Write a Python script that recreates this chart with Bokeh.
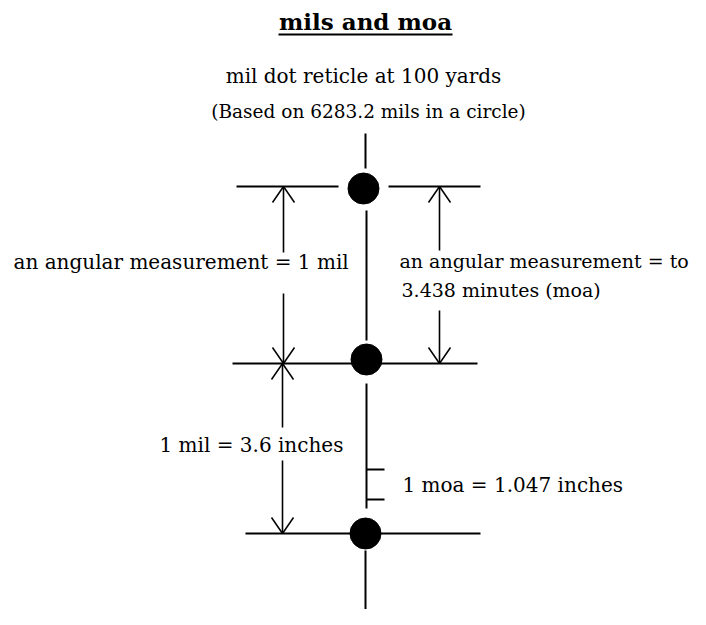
from bokeh.plotting import figure
from bokeh.models import Range1d
from bokeh.core.properties import value
from bokeh.embed import file_html
from bokeh.resources import INLINE

# ---- diagram data (reference pixel coordinates, y grows downward) ----
dot_x = [363, 366, 365]
dot_y = [188, 359, 533]

# reticle lines (x0, y0, x1, y1)
line_x0 = [236, 388, 232, 245, 365, 366, 366, 365, 366, 366]
line_y0 = [186, 186, 363, 533, 133, 210, 383, 550, 469, 499]
line_x1 = [338, 480, 477, 480, 365, 366, 366, 365, 384, 384]
line_y1 = [186, 186, 363, 533, 168, 340, 508, 625, 469, 499]

# dimension arrows: shaft segments and arrow tips (x, y, direction: -1 up, +1 down)
shaft_x0 = [283, 283, 282, 282, 439, 439]
shaft_y0 = [186, 293, 363, 460, 186, 310]
shaft_x1 = [283, 283, 282, 282, 439, 439]
shaft_y1 = [252, 363, 427, 533, 250, 363]
tip_x = [283, 283, 282, 282, 439, 439]
tip_y = [186, 363, 363, 533, 186, 363]
tip_dir = [-1, 1, -1, 1, -1, 1]

title = "mils and moa"
subtitle1 = "mil dot reticle at 100 yards"
subtitle2 = "(Based on 6283.2 mils in a circle)"
labels_l = ["an angular measurement = 1 mil", "1 mil = 3.6 inches", "1 moa = 1.047 inches"]
label_l_x = [13, 159, 402]
label_l_y = [268, 451, 491]
labels_r = ["an angular measurement = to", "3.438 minutes (moa)"]
label_r_x = [399, 401]
label_r_y = [267, 296]

W, H = 690, 609
p = figure(width=W, height=H, output_backend="svg", toolbar_location=None,
           x_range=Range1d(0, W), y_range=Range1d(H, 0),
           min_border=0, background_fill_color="white")
p.axis.visible = False
p.grid.visible = False
p.outline_line_color = None

serif = value("DejaVu Serif")
dy = 7  # baseline correction (screen pixels, upward)

# lines
p.segment(line_x0, line_y0, line_x1, line_y1, line_color="black", line_width=2)
p.segment(shaft_x0, shaft_y0, shaft_x1, shaft_y1, line_color="black", line_width=1.6)

# arrow heads (open V)
ax0, ay0, ax1, ay1 = [], [], [], []
for tx, ty, d in zip(tip_x, tip_y, tip_dir):
    for s in (-1, 1):
        ax0.append(tx)
        ay0.append(ty)
        ax1.append(tx + s * 11)
        ay1.append(ty - d * 16)
p.segment(ax0, ay0, ax1, ay1, line_color="black", line_width=1.5)

# dots
p.scatter(dot_x, dot_y, marker="circle", size=31, fill_color="black", line_color="black")

# title + underline
p.text([365], [28], text=[title], text_font=serif, text_font_style="bold",
       text_font_size="23px", text_align="center", text_baseline="alphabetic",
       text_color="black", y_offset=-dy)
p.segment([278], [34], [452], [34], line_color="black", line_width=2)

p.text([363], [82], text=[subtitle1], text_font=serif, text_font_size="20px",
       text_align="center", text_baseline="alphabetic", text_color="black", y_offset=-dy)
p.text([368], [118], text=[subtitle2], text_font=serif, text_font_size="18.5px",
       text_align="center", text_baseline="alphabetic", text_color="black", y_offset=-dy)

p.text(label_l_x, label_l_y, text=labels_l, text_font=serif, text_font_size="20px",
       text_align="left", text_baseline="alphabetic", text_color="black", y_offset=-dy)
p.text(label_r_x, label_r_y, text=labels_r, text_font=serif, text_font_size="19px",
       text_align="left", text_baseline="alphabetic", text_color="black", y_offset=-dy)

open("out.html", "w").write(file_html(p, INLINE))
